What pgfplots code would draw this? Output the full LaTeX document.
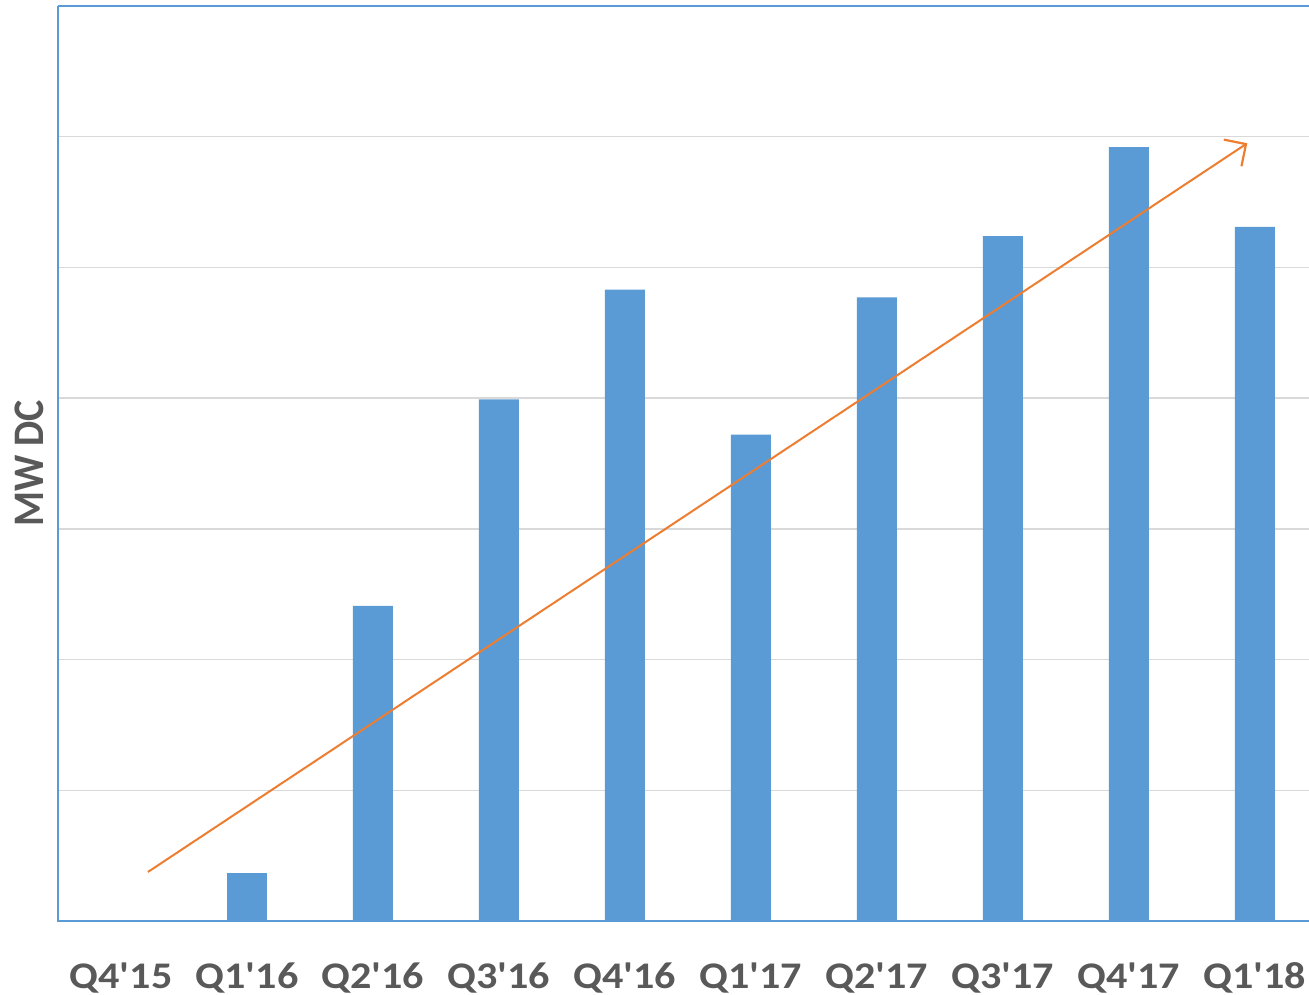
\documentclass[border=0pt]{standalone}
\usepackage{fontspec}
\setmainfont{Carlito}
\usepackage{pgfplots}
\pgfplotsset{compat=1.18}
\usetikzlibrary{arrows.meta}
\definecolor{barblue}{HTML}{5B9BD5}
\definecolor{arrorange}{HTML}{ED7D31}
\definecolor{gridgray}{HTML}{D9D9D9}
\definecolor{txtgray}{HTML}{595959}
\newcommand{\q}{\textquotesingle}
\begin{document}
\begin{tikzpicture}
\begin{axis}[
  scale only axis,
  width=625.5pt, height=457.5pt,
  xmin=-0.5, xmax=9.43,
  ymin=0, ymax=7,
  axis line style={draw=none},
  ytick={1,2,3,4,5,6},
  yticklabels={},
  ymajorgrids,
  grid style={gridgray, line width=0.75pt},
  major tick length=0pt,
  xtick={0,1,2,3,4,5,6,7,8,9},
  xticklabels={Q4\q15,Q1\q16,Q2\q16,Q3\q16,Q4\q16,Q1\q17,Q2\q17,Q3\q17,Q4\q17,Q1\q18},
  xticklabel style={font=\fontsize{18.8}{22}\selectfont\bfseries, text=txtgray, xscale=1.12, yshift=-17.2pt},
  ylabel={MW DC},
  every axis y label/.style={at={(axis description cs:-0.0232,0.5)}, rotate=90, yscale=1.09, anchor=center, font=\fontsize{20}{24}\selectfont\bfseries, text=txtgray},
  clip=false,
]
\addplot[ybar, bar width=0.317, fill=barblue, draw=none] coordinates {
  (0,0) (1,0.367) (2,2.41) (3,3.99) (4,4.83) (5,3.72) (6,4.77) (7,5.24) (8,5.92) (9,5.31)
};
\addplot[arrorange, line width=1pt, -{Straight Barb[length=8pt, width=16pt, line width=1.1pt]}] coordinates {
  (0.214,0.375) (8.94,5.95)
};
\draw[barblue, line width=1pt] (rel axis cs:0,1) -- (rel axis cs:0,0) -- (rel axis cs:1,0);
\draw[barblue, line width=1pt] (rel axis cs:0,1) -- (rel axis cs:1,1);
\coordinate (bl) at (rel axis cs:0,0);
\coordinate (tr) at (rel axis cs:1,1);
\end{axis}
\pgfresetboundingbox
\path ([xshift=-29pt,yshift=-37pt]bl) rectangle ([yshift=3pt]tr);
\end{tikzpicture}
\end{document}
